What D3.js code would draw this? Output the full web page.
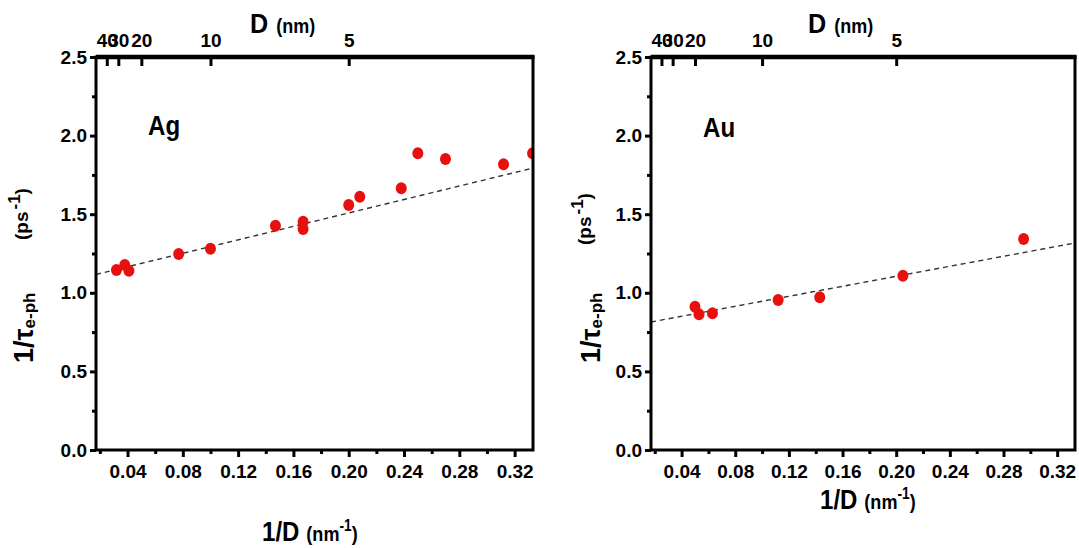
<!DOCTYPE html>
<html>
<head>
<meta charset="utf-8">
<script src="https://cdn.jsdelivr.net/npm/d3@7/dist/d3.min.js"></script>
<style>
  html, body { margin: 0; padding: 0; background: #fff; }
  svg { display: block; font-family: "Liberation Sans", Arial, sans-serif; font-weight: bold; }
</style>
</head>
<body>
<svg id="chart" width="1079" height="548"></svg>
<script>
// Electron-phonon scattering rate vs. inverse particle diameter
const agInvD = [0.032, 0.038, 0.041, 0.077, 0.100, 0.147, 0.167, 0.167, 0.200, 0.208, 0.238, 0.250, 0.270, 0.312, 0.333];
const agRate = [1.145, 1.177, 1.140, 1.247, 1.280, 1.427, 1.452, 1.406, 1.559, 1.611, 1.665, 1.887, 1.851, 1.817, 1.887];
const auInvD = [0.050, 0.053, 0.063, 0.112, 0.143, 0.205, 0.295];
const auRate = [0.912, 0.863, 0.870, 0.954, 0.971, 1.109, 1.342];
// linear fits: [intercept, slope]
const agFit = [1.08, 2.14];
const auFit = [0.787, 1.59];
// axis ticks
const topD = [40, 30, 20, 10, 5];
const xMajor = [0.04, 0.08, 0.12, 0.16, 0.20, 0.24, 0.28, 0.32];
const xMinor = [0.02, 0.06, 0.10, 0.14, 0.18, 0.22, 0.26, 0.30];
const yMajor = [0.0, 0.5, 1.0, 1.5, 2.0, 2.5];
const yMinor = [0.25, 0.75, 1.25, 1.75, 2.25];
const xDomain = [0.0172, 0.3333];
const yDomain = [0, 2.5];

const svg = d3.select("#chart");

const panels = [
  { id: "ag", name: "Ag", xs: agInvD, ys: agRate, fit: agFit,
    left: 96, right: 533, top: 57, bottom: 450,
    nameX: 148, nameY: 135,
    yLab: { x: 33, y: 363 }, yUnit: { x: 28, y: 240 },
    xTitle: { x: 262, y: 541 }, topTitle: { x: 250, y: 33 } },
  { id: "au", name: "Au", xs: auInvD, ys: auRate, fit: auFit,
    left: 651, right: 1075, top: 57, bottom: 450,
    nameX: 703, nameY: 137,
    yLab: { x: 600, y: 363 }, yUnit: { x: 591, y: 245 },
    xTitle: { x: 820, y: 509 }, topTitle: { x: 808, y: 33 } }
];

panels.forEach(p => {
  const x = d3.scaleLinear().domain(xDomain).range([p.left, p.right]);
  const y = d3.scaleLinear().domain(yDomain).range([p.bottom, p.top]);
  const g = svg.append("g");

  g.append("clipPath").attr("id", "clip-" + p.id)
    .append("rect")
    .attr("x", p.left).attr("y", p.top)
    .attr("width", p.right - p.left).attr("height", p.bottom - p.top);

  const plot = g.append("g").attr("clip-path", `url(#clip-${p.id})`);

  // dashed linear fit
  plot.append("line")
    .attr("x1", x(xDomain[0])).attr("y1", y(p.fit[0] + p.fit[1] * xDomain[0]))
    .attr("x2", x(xDomain[1])).attr("y2", y(p.fit[0] + p.fit[1] * xDomain[1]))
    .attr("stroke", "#333").attr("stroke-width", 1.4)
    .attr("stroke-dasharray", "5,4");

  // measured points
  plot.selectAll("ellipse").data(p.xs.map((v, i) => [v, p.ys[i]]))
    .enter().append("ellipse")
    .attr("cx", d => x(d[0])).attr("cy", d => y(d[1]))
    .attr("rx", 5.5).attr("ry", 6)
    .attr("fill", "#e8100f");

  // bottom axis
  const bAxis = g.append("g").attr("transform", `translate(0,${p.bottom})`)
    .call(d3.axisBottom(x).tickValues(xMajor).tickFormat(d3.format(".2f")).tickSize(7).tickPadding(8));
  const bMinor = g.append("g").attr("transform", `translate(0,${p.bottom})`)
    .call(d3.axisBottom(x).tickValues(xMinor).tickFormat("").tickSize(4));

  // left axis
  const lAxis = g.append("g").attr("transform", `translate(${p.left},0)`)
    .call(d3.axisLeft(y).tickValues(yMajor).tickFormat(d3.format(".1f")).tickSize(6).tickPadding(3));
  const lMinor = g.append("g").attr("transform", `translate(${p.left},0)`)
    .call(d3.axisLeft(y).tickValues(yMinor).tickFormat("").tickSize(4));

  // top axis in particle diameter D
  const tAxis = g.append("g").attr("transform", `translate(0,${p.top})`)
    .call(d3.axisTop(x).tickValues(topD.map(d => 1 / d)).tickFormat((d, i) => topD[i])
      .tickSizeInner(-9).tickSizeOuter(0).tickPadding(10));

  [bAxis, bMinor, lAxis, lMinor, tAxis].forEach(a => {
    a.select(".domain").remove();
    a.selectAll(".tick line").attr("stroke", "#000").attr("stroke-width", 3);
    a.selectAll(".tick text").attr("fill", "#000")
      .style("font-family", "'Liberation Sans', Arial, sans-serif")
      .style("font-weight", "bold").style("font-size", "19px");
  });

  // frame
  g.append("path")
    .attr("d", `M${p.left},${p.bottom}H${p.right}V${p.top}H${p.left}Z`)
    .attr("fill", "none").attr("stroke", "#000").attr("stroke-width", 3);
  g.append("line")
    .attr("x1", p.left).attr("x2", p.right + 1.5).attr("y1", p.top).attr("y2", p.top)
    .attr("stroke", "#000").attr("stroke-width", 4.5);

  // metal label
  g.append("text")
    .attr("transform", `translate(${p.nameX},${p.nameY}) scale(0.86,1)`)
    .style("font-size", "28px").text(p.name);

  // y axis label
  const yl = g.append("text")
    .attr("transform", `translate(${p.yLab.x},${p.yLab.y}) rotate(-90)`);
  yl.append("tspan").style("font-size", "27px").text("1/τ");
  yl.append("tspan").style("font-size", "17px").attr("dy", 2).text("e-ph");

  const yu = g.append("text")
    .attr("transform", `translate(${p.yUnit.x},${p.yUnit.y}) rotate(-90)`);
  yu.append("tspan").style("font-size", "19px").text("(ps");
  yu.append("tspan").style("font-size", "17px").attr("dx", 2).attr("dy", -8).text("-1");
  yu.append("tspan").style("font-size", "19px").attr("dy", 8).text(")");

  // bottom title
  const xt = g.append("text")
    .attr("transform", `translate(${p.xTitle.x},${p.xTitle.y}) scale(0.86,1)`);
  xt.append("tspan").style("font-size", "28px").text("1/D");
  xt.append("tspan").style("font-size", "21px").attr("dx", 8).text("(nm");
  xt.append("tspan").style("font-size", "16px").attr("dy", -10).text("-1");
  xt.append("tspan").style("font-size", "21px").attr("dy", 10).text(")");

  // top title
  const tt = g.append("text")
    .attr("transform", `translate(${p.topTitle.x},${p.topTitle.y}) scale(0.9,1)`);
  tt.append("tspan").style("font-size", "28px").text("D");
  tt.append("tspan").style("font-size", "20px").attr("dx", 9).text("(nm)");
});
</script>
</body>
</html>
